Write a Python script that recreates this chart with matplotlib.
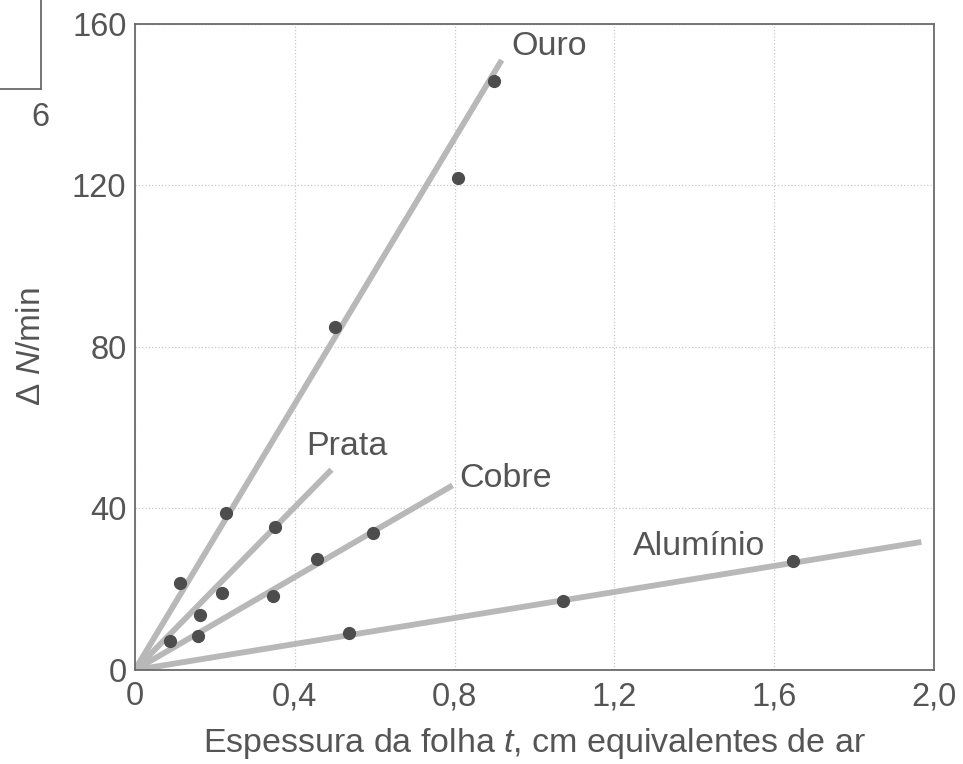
import matplotlib
matplotlib.use('Agg')
import matplotlib.pyplot as plt
from matplotlib.lines import Line2D

plt.rcParams['font.family'] = ['Liberation Sans', 'DejaVu Sans']
plt.rcParams['mathtext.fontset'] = 'custom'
plt.rcParams['mathtext.it'] = 'Liberation Sans:italic'
plt.rcParams['mathtext.rm'] = 'Liberation Sans'

# Data
ouro_t = [0.114, 0.227, 0.502, 0.808, 0.899]
ouro_n = [21.6, 38.9, 84.9, 121.8, 145.9]
prata_t = [0.087, 0.164, 0.218, 0.350]
prata_n = [7.2, 13.7, 19.0, 35.5]
cobre_t = [0.157, 0.345, 0.455, 0.595]
cobre_n = [8.5, 18.3, 27.6, 34.0]
aluminio_t = [0.535, 1.072, 1.648]
aluminio_n = [9.1, 17.0, 26.9]

# fitted lines (start, end)
ouro_line_t = [0, 0.918]
ouro_line_n = [0, 151]
prata_line_t = [0, 0.492]
prata_line_n = [0, 49.6]
cobre_line_t = [0, 0.795]
cobre_line_n = [0, 45.7]
aluminio_line_t = [0, 1.968]
aluminio_line_n = [0, 31.7]

xticks = [0, 0.4, 0.8, 1.2, 1.6, 2.0]
xtick_labels = ['0', '0,4', '0,8', '1,2', '1,6', '2,0']
yticks = [0, 40, 80, 120, 160]

text_color = '#555555'
line_color = '#b8b8b8'
dot_color = '#4d4d4d'

fig = plt.figure(figsize=(9.63, 7.64), dpi=100)
ax = fig.add_axes([0.140, 0.123, 0.830, 0.846])

for lt, ln in [(ouro_line_t, ouro_line_n), (prata_line_t, prata_line_n),
               (cobre_line_t, cobre_line_n), (aluminio_line_t, aluminio_line_n)]:
    ax.plot(lt, ln, color=line_color, lw=4.2, solid_capstyle='butt', zorder=2)

for t, n in [(ouro_t, ouro_n), (prata_t, prata_n), (cobre_t, cobre_n), (aluminio_t, aluminio_n)]:
    ax.plot(t, n, 'o', color=dot_color, ms=8.5, zorder=3)

ax.text(0.943, 154.3, 'Ouro', fontsize=24.5, color=text_color, va='center')
ax.text(0.428, 55.4, 'Prata', fontsize=24.5, color=text_color, va='center')
ax.text(0.813, 47.3, 'Cobre', fontsize=24.5, color=text_color, va='center')
ax.text(1.247, 30.6, 'Alumínio', fontsize=24.5, color=text_color, va='center')

ax.set_xlim(0, 2.0)
ax.set_ylim(0, 160)
ax.set_xticks(xticks)
ax.set_xticklabels(xtick_labels)
ax.set_yticks(yticks)
ax.tick_params(length=0, labelsize=23.5, labelcolor=text_color, pad=6)
ax.tick_params(axis='x', pad=8)
ax.grid(True, linestyle=':', color='#c8c8c8', lw=0.9)
ax.set_axisbelow(True)
for s in ax.spines.values():
    s.set_color('#6a6a6a')
    s.set_linewidth(1.3)

ax.set_xlabel('Espessura da folha $\\it{t}$, cm equivalentes de ar', fontsize=24.5, color=text_color, labelpad=10)
ax.set_ylabel('Δ $\\it{N}$/min', fontsize=24, color=text_color, labelpad=18)

# scan leftovers in top-left corner
fig.add_artist(Line2D([0, 41 / 963], [1 - 89 / 764, 1 - 89 / 764], color='#6a6a6a', lw=1.3))
fig.add_artist(Line2D([41 / 963, 41 / 963], [1 - 89 / 764, 1], color='#6a6a6a', lw=1.3))
fig.text(40 / 963, 1 - 118 / 764, '6', fontsize=23.5, color=text_color, ha='center', va='center')

plt.savefig('out.png', dpi=100)
